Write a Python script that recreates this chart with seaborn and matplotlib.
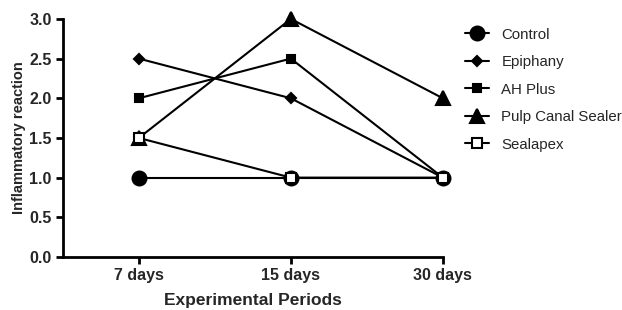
import matplotlib
matplotlib.use("Agg")
import matplotlib.pyplot as plt
import seaborn as sns
import pandas as pd

periods = ["7 days", "15 days", "30 days"]
control = [1.0, 1.0, 1.0]
epiphany = [2.5, 2.0, 1.0]
ah_plus = [2.0, 2.5, 1.0]
pulp_canal = [1.5, 3.0, 2.0]
sealapex = [1.5, 1.0, 1.0]

series = [
    ("Control", control, "o", 10, "black"),
    ("Epiphany", epiphany, "D", 5, "black"),
    ("AH Plus", ah_plus, "s", 6, "black"),
    ("Pulp Canal Sealer", pulp_canal, "^", 10, "black"),
    ("Sealapex", sealapex, "s", 7, "white"),
]

sns.set_style("ticks")
plt.rcParams["font.family"] = ["Liberation Sans", "DejaVu Sans"]

fig = plt.figure(figsize=(6.22, 3.1), dpi=100)
ax = fig.add_axes([0.101, 0.171, 0.611, 0.768])

pos = list(range(len(periods)))
for name, vals, mk, ms, fc in series:
    df = pd.DataFrame({"x": pos, "y": vals})
    sns.lineplot(data=df, x="x", y="y", ax=ax, color="black", linewidth=1.5,
                 marker=mk, markersize=ms, markerfacecolor=fc,
                 markeredgecolor="black", markeredgewidth=1.5,
                 label=name, clip_on=False)

ax.set_xlim(-0.5, 2.0)
ax.set_ylim(0, 3.0)
ax.set_xticks(pos)
ax.set_xticklabels(periods)
yt = [0.0, 0.5, 1.0, 1.5, 2.0, 2.5, 3.0]
ax.set_yticks(yt)
ax.set_yticklabels([f"{v:.1f}" for v in yt])
for lab in ax.get_xticklabels() + ax.get_yticklabels():
    lab.set_fontweight("bold")
    lab.set_fontsize(11.5)
ax.tick_params(direction="out", length=5, width=2, color="black", pad=3)
ax.set_xlabel("Experimental Periods", fontsize=12.5, fontweight="bold", labelpad=7)
ax.set_ylabel("Inflammatory reaction", fontsize=10.5, fontweight="bold", labelpad=2)
for s in ["left", "bottom"]:
    ax.spines[s].set_linewidth(2)
    ax.spines[s].set_color("black")
sns.despine(ax=ax)

ax.legend(loc="upper left", bbox_to_anchor=(0.735, 0.935),
          bbox_transform=fig.transFigure, frameon=False, borderpad=0,
          fontsize=10.8, handlelength=1.6, labelspacing=0.9, handletextpad=0.85)

fig.savefig("out.png", dpi=100)
